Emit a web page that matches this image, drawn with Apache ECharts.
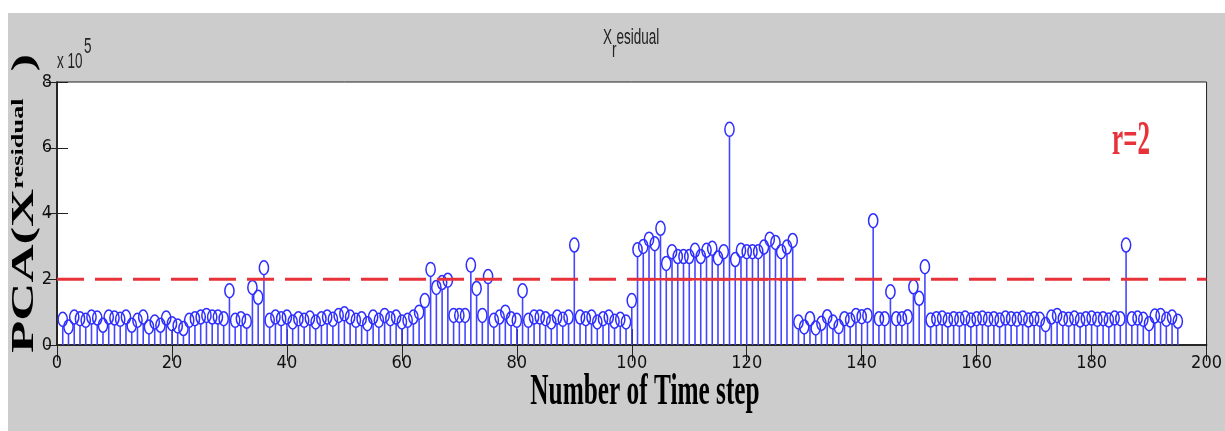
<!DOCTYPE html>
<html><head><meta charset="utf-8">
<script src="https://cdn.jsdelivr.net/npm/echarts@6/dist/echarts.min.js"></script>
<style>html,body{margin:0;padding:0;background:#fff}#c{width:1225px;height:431px}</style>
</head><body><div id="c"></div>
<script>
// ---- data (values in units of 1e5) ----
const residualValues = [
 0.78,0.55,0.85,0.80,0.75,0.85,0.82,0.60,0.85,0.82,
 0.78,0.85,0.60,0.75,0.85,0.55,0.70,0.60,0.82,0.65,
 0.58,0.50,0.75,0.80,0.85,0.90,0.85,0.85,0.80,1.65,
 0.75,0.80,0.72,1.75,1.45,2.35,0.75,0.85,0.80,0.85,
 0.70,0.80,0.75,0.82,0.70,0.80,0.85,0.78,0.90,0.95,
 0.85,0.75,0.80,0.65,0.85,0.75,0.90,0.80,0.85,0.70,
 0.75,0.85,1.00,1.35,2.30,1.75,1.90,1.97,0.90,0.90,
 0.90,2.43,1.72,0.90,2.08,0.75,0.85,1.00,0.80,0.75,
 1.65,0.75,0.85,0.85,0.80,0.70,0.85,0.78,0.85,3.04,
 0.85,0.80,0.85,0.70,0.80,0.85,0.72,0.78,0.70,1.35,
 2.90,3.00,3.22,3.08,3.55,2.48,2.84,2.69,2.69,2.69,
 2.88,2.69,2.88,2.94,2.65,2.84,6.56,2.60,2.88,2.84,
 2.84,2.84,2.98,3.22,3.12,2.84,2.98,3.18,0.70,0.55,
 0.80,0.52,0.66,0.86,0.70,0.56,0.80,0.76,0.90,0.86,
 0.90,3.78,0.80,0.80,1.62,0.80,0.80,0.86,1.77,1.42,
 2.38,0.76,0.80,0.82,0.76,0.80,0.78,0.82,0.76,0.80,
 0.82,0.78,0.80,0.76,0.82,0.80,0.78,0.82,0.76,0.80,
 0.78,0.62,0.85,0.90,0.80,0.78,0.82,0.76,0.80,0.82,
 0.78,0.80,0.76,0.82,0.80,3.04,0.80,0.82,0.78,0.65,
 0.88,0.90,0.78,0.85,0.72
];
const thresholdValue = 2;
const thresholdRange = [0, 200];
const solidSegmentRange = [101, 129];
const xTickLabels = ['0','20','40','60','80','100','120','140','160','180','200'];
const yTickLabels = ['0','2','4','6','8'];
const titleParts = ['X', 'r', 'esidual'];
const yLabelParts = ['PCA(X', 'residual', ')'];
const xLabelText = 'Number of Time step';
const exponentParts = ['x 10', '5'];
const annotationText = 'r=2';

// ---- build ----
const stemData = residualValues.map((v, i) => [i + 1, v]);
const BLUE = '#2e2eff';
const STEM = '#4646ff';
const RED = '#e8323a';
const tickFont = "'Liberation Sans Narrow','DejaVu Sans Condensed',Arial,sans-serif";
const serif = "'Liberation Serif','Times New Roman',serif";
const sans = "'Liberation Sans',Arial,sans-serif";

const mctx = document.createElement('canvas').getContext('2d');
function tw(t, font) { mctx.font = font; return mctx.measureText(t).width; }

const chart = echarts.init(document.getElementById('c'), null, {renderer: 'canvas'});

const titleFont = '13.5px ' + sans;
const wX = tw(titleParts[0], titleFont), wr = tw(titleParts[1], titleFont);
const expFont = '13.5px ' + sans;
const wExp = tw(exponentParts[0], expFont);
const bigFont = 'bold 32px ' + serif, supFont = 'bold 16px ' + serif;
const wBig = tw(yLabelParts[0], bigFont);

const option = {
  backgroundColor: '#ffffff',
  animation: false,
  color: [BLUE],
  grid: {left: 57, right: 16, top: 82, bottom: 86, containLabel: false,
         show: true, backgroundColor: '#ffffff', borderColor: '#222', borderWidth: 1},
  xAxis: [
    {type: 'value', min: 0, max: 200, interval: 20, position: 'bottom',
     axisLine: {show: true, lineStyle: {color: '#222', width: 1.5}},
     axisTick: {show: true, inside: true, length: 16, lineStyle: {color: '#222'}},
     axisLabel: {color: '#111', fontSize: 18, fontFamily: tickFont, margin: 9,
                 formatter: (v) => xTickLabels[Math.round(v / 20)]},
     splitLine: {show: false}},
    {type: 'value', min: 0, max: 200, interval: 20, position: 'top',
     axisLine: {show: true, lineStyle: {color: '#222', width: 1.5}},
     axisTick: {show: true, inside: true, length: 16, lineStyle: {color: '#222'}},
     axisLabel: {show: false}, splitLine: {show: false}}
  ],
  yAxis: [
    {type: 'value', min: 0, max: 8, interval: 2, position: 'left',
     axisLine: {show: true, lineStyle: {color: '#222', width: 1.5}},
     axisTick: {show: true, inside: true, length: 11, lineStyle: {color: '#222'}},
     axisLabel: {color: '#111', fontSize: 18, fontFamily: tickFont, margin: 5,
                 formatter: (v) => yTickLabels[Math.round(v / 2)]},
     splitLine: {show: false}},
    {type: 'value', min: 0, max: 8, interval: 2, position: 'right',
     axisLine: {show: true, lineStyle: {color: '#222', width: 1.5}},
     axisTick: {show: true, inside: true, length: 11, lineStyle: {color: '#222'}},
     axisLabel: {show: false}, splitLine: {show: false}}
  ],
  series: [
    {type: 'custom', name: 'stems', xAxisIndex: 0, yAxisIndex: 0, z: 2,
     data: stemData,
     itemStyle: {color: BLUE},
     renderItem: function (params, api) {
       const x = api.value(0), v = api.value(1);
       const base = api.coord([x, 0]);
       const top = api.coord([x, v]);
       const rx = 4.6, ry = 7;
       return {type: 'group', children: [
         {type: 'rect', shape: {x: top[0] - 0.8, y: top[1] + ry, width: 1.6, height: base[1] - top[1] - ry},
          style: {fill: STEM, stroke: null}},
         {type: 'ellipse', shape: {cx: top[0], cy: top[1], rx: rx, ry: ry},
          style: {stroke: BLUE, fill: 'none', lineWidth: 1.5}}
       ]};
     }},
    {type: 'line', name: 'threshold', z: 4, showSymbol: false, silent: true,
     data: [[thresholdRange[0], thresholdValue], [thresholdRange[1], thresholdValue]],
     lineStyle: {color: RED, width: 3, type: [27, 11]}},
    {type: 'line', name: 'segment', z: 4, showSymbol: false, silent: true,
     data: [[solidSegmentRange[0], thresholdValue], [solidSegmentRange[1], thresholdValue]],
     lineStyle: {color: RED, width: 2.5}}
  ],
  graphic: [
    {type: 'rect', z: -10, silent: true, shape: {x: 8, y: 13, width: 1217, height: 418},
     style: {fill: '#cccccc'}},
    // title
    {type: 'group', x: 603, y: 38, scaleY: 1.7, children: [
      {type: 'text', x: 0, y: 0, style: {text: titleParts[0], font: titleFont, fill: '#222', verticalAlign: 'middle', align: 'left'}},
      {type: 'text', x: wX, y: 7.5, style: {text: titleParts[1], font: titleFont, fill: '#222', verticalAlign: 'middle', align: 'left'}},
      {type: 'text', x: wX + wr, y: 0, style: {text: titleParts[2], font: titleFont, fill: '#222', verticalAlign: 'middle', align: 'left'}}
    ]},
    // exponent
    {type: 'group', x: 57, y: 62, scaleY: 1.7, children: [
      {type: 'text', x: 0, y: 0, style: {text: exponentParts[0], font: expFont, fill: '#222', verticalAlign: 'middle', align: 'left'}},
      {type: 'text', x: wExp + 1.5, y: -9, style: {text: exponentParts[1], font: expFont, fill: '#222', verticalAlign: 'middle', align: 'left'}}
    ]},
    // r=2
    {type: 'text', x: 1131, y: 142, scaleY: 1.9,
     style: {text: annotationText, font: 'bold 25px ' + serif, fill: RED, align: 'center', verticalAlign: 'middle'}},
    // x axis name
    {type: 'text', x: 645, y: 393, scaleY: 1.73,
     style: {text: xLabelText, font: 'bold 25.3px ' + serif, fill: '#000', align: 'center', verticalAlign: 'middle'}},
    // y axis name (rotated)
    {type: 'group', x: 25, y: 353, rotation: Math.PI / 2, scaleX: 1.65, children: [
      {type: 'text', x: 0, y: 0, style: {text: yLabelParts[0], font: bigFont, fill: '#000', align: 'left', verticalAlign: 'middle'}},
      {type: 'text', x: wBig, y: -6, style: {text: yLabelParts[1], font: supFont, fill: '#000', align: 'left', verticalAlign: 'middle'}},
      {type: 'text', x: 176, y: 0, style: {text: yLabelParts[2], font: bigFont, fill: '#000', align: 'center', verticalAlign: 'middle'}}
    ]}
  ]
};
chart.setOption(option);
</script>
</body></html>
